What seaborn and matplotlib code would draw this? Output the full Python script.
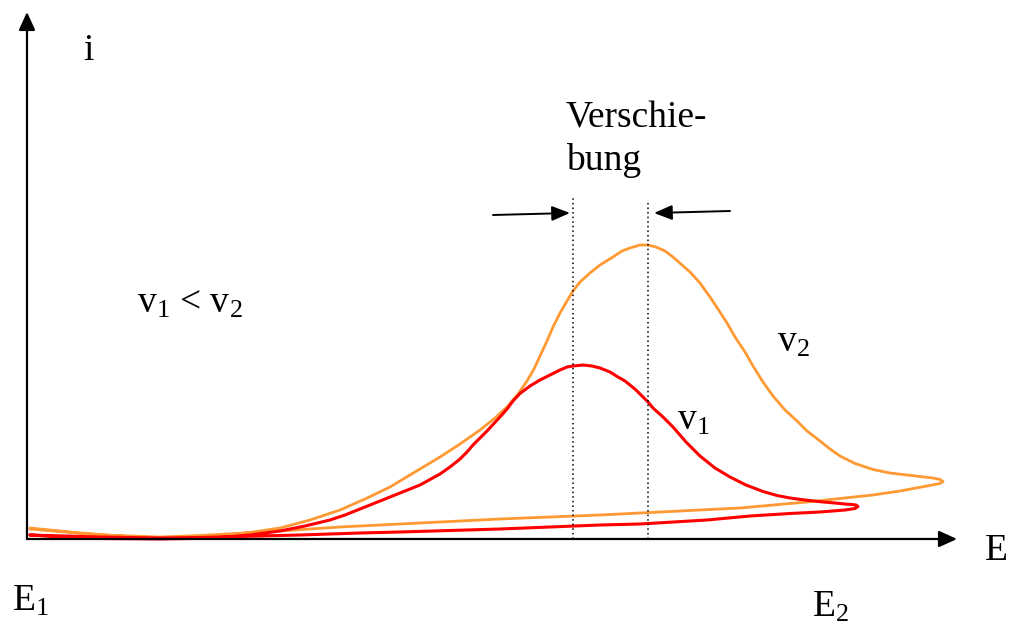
import matplotlib
matplotlib.use("Agg")
import matplotlib.pyplot as plt
import seaborn as sns
import numpy as np
import pandas as pd

# ---- data (E and i in picture units, origin at axis crossing) ----
ORIGIN_X, ORIGIN_Y = 27, 539

red_px_x = [30, 60, 100, 160, 190, 220, 250, 280, 305, 330, 345, 360, 375, 390, 405, 420, 430, 440,
            450, 460, 467, 473, 480, 487, 493, 500, 507, 513, 520, 530, 540, 550, 560, 567, 573, 583,
            592, 600, 610, 618, 625, 630, 636, 642, 648, 653, 663, 673, 686, 700, 715, 730, 746, 763,
            777, 790, 805, 823, 835, 845, 852, 856, 858,
            855, 845, 820, 790, 750, 707, 640, 600, 500, 400, 360, 300, 200, 160, 100, 30]
red_px_y = [535, 537, 538.5, 539, 538.5, 537.5, 535, 531, 526, 520, 515, 509, 503, 497, 491, 485, 479.5, 474,
            467, 459, 452, 445, 438, 431, 424.5, 417, 409, 401, 393.5, 386, 380, 375, 370, 367, 366, 365,
            366, 368, 372, 377, 381, 385, 390, 396, 402, 408, 417, 427, 442, 456, 468, 477, 485, 491.5,
            495.5, 498, 500, 502, 503, 504, 504.5, 505, 506.5,
            508.5, 510, 512, 513.5, 516, 520, 524, 525, 529, 532, 533, 535, 537.5, 538, 537, 535]

orange_px_x = [30, 80, 120, 160, 190, 220, 250, 280, 310, 340, 365, 390, 415, 440, 460, 480, 495, 507,
               518, 527, 534, 540, 547, 553, 560, 567, 573, 580, 590, 600, 613, 622, 630, 640, 648, 656,
               665, 673, 682, 690, 700, 710, 718, 727, 735, 745, 753, 763, 773, 785, 797, 807, 820, 830,
               840, 855, 873, 890, 907, 920, 933, 940, 943,
               940, 927, 900, 873, 840, 807, 740, 640, 600, 500, 400, 340, 280, 200, 160, 100, 30]
orange_px_y = [528, 533, 536, 538, 537.5, 536, 532.5, 528, 520, 510, 499, 487, 472, 457, 444, 430, 418, 407,
               394, 381, 369, 356, 341, 327, 313, 301, 291, 282, 273, 265, 257, 251, 248, 245, 245, 247,
               251, 257, 265, 272, 283, 297, 309, 323, 337, 352, 366, 382, 396, 410, 421, 431, 441, 449,
               456, 463.5, 469.5, 473, 475, 476.5, 478, 479.5, 481.5,
               483.5, 486, 491, 495, 498.5, 502, 508, 513, 515, 519, 524, 527, 531, 535.5, 537, 535, 529]

E_v1 = [x - ORIGIN_X for x in red_px_x]
i_v1 = [ORIGIN_Y - y for y in red_px_y]
E_v2 = [x - ORIGIN_X for x in orange_px_x]
i_v2 = [ORIGIN_Y - y for y in orange_px_y]

peak_E_v1 = 573 - ORIGIN_X
peak_E_v2 = 648 - ORIGIN_X

labels_axes = ["i", "E"]
label_E1 = r"E$_1$"
label_E2 = r"E$_2$"
label_rel = r"v$_1$ < v$_2$"
label_v1 = r"v$_1$"
label_v2 = r"v$_2$"
label_shift = ["Verschie-", "bung"]

# ---- style ----
sns.set_style("white")
plt.rcParams["font.family"] = ["Liberation Serif", "DejaVu Serif"]
plt.rcParams["text.color"] = "black"
plt.rcParams["mathtext.fontset"] = "custom"
plt.rcParams["mathtext.rm"] = "Liberation Serif"
plt.rcParams["mathtext.it"] = "Liberation Serif:italic"
plt.rcParams["mathtext.default"] = "rm"

fig = plt.figure(figsize=(10.1, 6.24), dpi=100)
ax = fig.add_axes([0, 0, 1, 1])
ax.set_xlim(-ORIGIN_X, 1010 - ORIGIN_X)
ax.set_ylim(ORIGIN_Y - 624, ORIGIN_Y)
ax.axis("off")

df1 = pd.DataFrame({"E": E_v1, "i": i_v1})
df2 = pd.DataFrame({"E": E_v2, "i": i_v2})
sns.lineplot(data=df2, x="E", y="i", sort=False, estimator=None, color="#FF9933", lw=2.0, ax=ax)
sns.lineplot(data=df1, x="E", y="i", sort=False, estimator=None, color="#FF0000", lw=2.2, ax=ax)

# axes with arrows
aprops = dict(arrowstyle="-|>,head_length=1.1,head_width=0.5", mutation_scale=10,
              color="black", lw=1.6, shrinkA=0, shrinkB=0)
ax.annotate("", xy=(957 - ORIGIN_X, 0), xytext=(0, 0), arrowprops=aprops)
ax.annotate("", xy=(0, ORIGIN_Y - 12), xytext=(0, 0), arrowprops=aprops)

# dotted peak markers
ax.plot([peak_E_v1, peak_E_v1], [0, ORIGIN_Y - 198], color="black", lw=1.1, ls=(0, (1, 2)))
ax.plot([peak_E_v2, peak_E_v2], [0, ORIGIN_Y - 200], color="black", lw=1.1, ls=(0, (1, 2)))

# shift arrows
sprops = dict(arrowstyle="-|>,head_length=1.1,head_width=0.45", mutation_scale=10,
              color="black", lw=1.4, shrinkA=0, shrinkB=0)
ax.annotate("", xy=(570 - ORIGIN_X, ORIGIN_Y - 213), xytext=(493 - ORIGIN_X, ORIGIN_Y - 215), arrowprops=sprops)
ax.annotate("", xy=(654 - ORIGIN_X, ORIGIN_Y - 213), xytext=(730 - ORIGIN_X, ORIGIN_Y - 211), arrowprops=sprops)

fs = 27
tc = "black"
ax.text(88 - ORIGIN_X, ORIGIN_Y - 60, labels_axes[0], fontsize=fs, ha="center", va="baseline", color=tc)
ax.text(985 - ORIGIN_X, ORIGIN_Y - 560, labels_axes[1], fontsize=fs, ha="left", va="baseline", color=tc)
ax.text(12 - ORIGIN_X, ORIGIN_Y - 611, label_E1, fontsize=fs, ha="left", va="baseline", color=tc)
ax.text(812 - ORIGIN_X, ORIGIN_Y - 617, label_E2, fontsize=fs, ha="left", va="baseline", color=tc)
ax.text(137 - ORIGIN_X, ORIGIN_Y - 313, label_rel, fontsize=fs, ha="left", va="baseline", color=tc)
ax.text(777 - ORIGIN_X, ORIGIN_Y - 352, label_v2, fontsize=fs, ha="left", va="baseline", color=tc)
ax.text(677 - ORIGIN_X, ORIGIN_Y - 430, label_v1, fontsize=fs, ha="left", va="baseline", color=tc)
ax.text(566 - ORIGIN_X, ORIGIN_Y - 127, label_shift[0], fontsize=fs, ha="left", va="baseline", color=tc)
ax.text(566 - ORIGIN_X, ORIGIN_Y - 170, label_shift[1], fontsize=fs, ha="left", va="baseline", color=tc)

fig.savefig("out.png", dpi=100, facecolor="white")
